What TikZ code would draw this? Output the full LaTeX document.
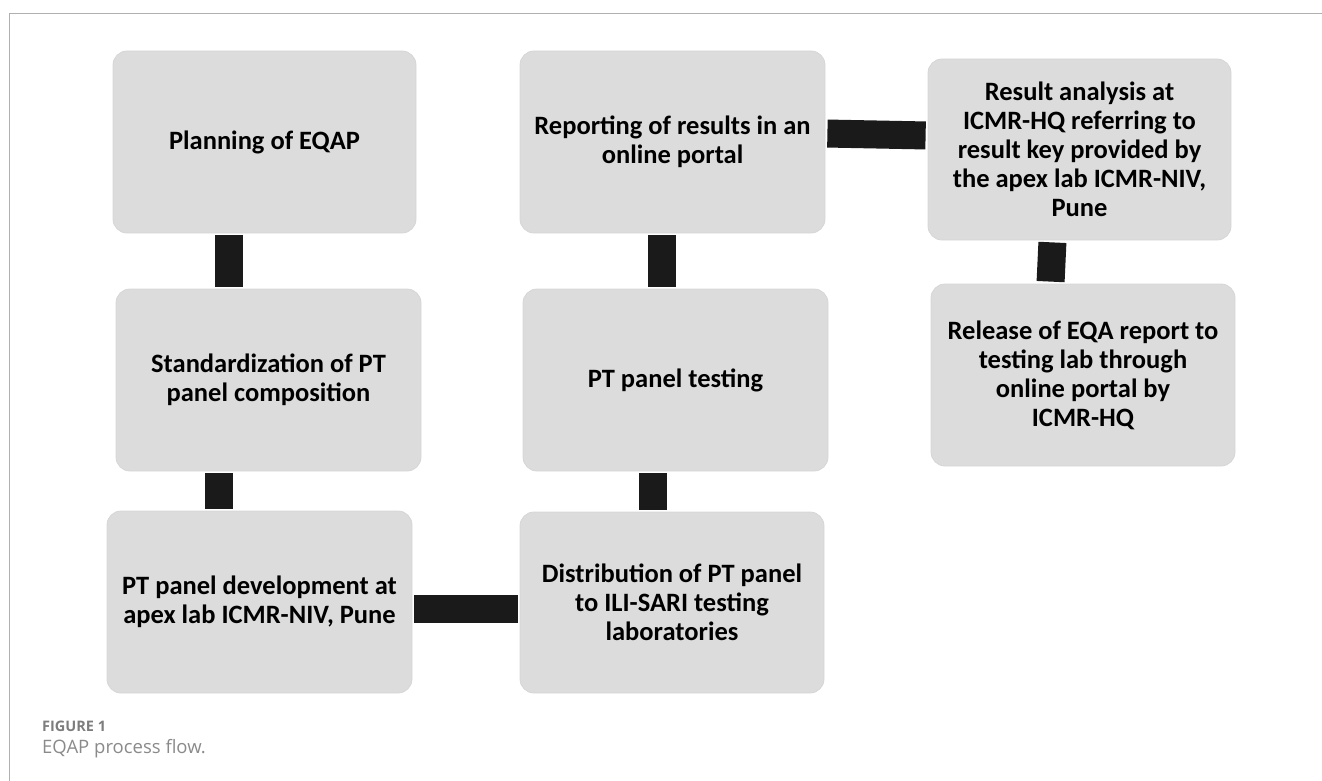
\documentclass[tikz,border=0pt]{standalone}
\usepackage{fontspec}
\setmainfont{Carlito}
\newfontfamily\capfont{Open Sans}
\definecolor{boxgray}{RGB}{220,220,220}
\definecolor{boxedge}{RGB}{214,214,214}
\definecolor{barblack}{RGB}{26,26,26}
\definecolor{framegray}{RGB}{176,176,176}
\definecolor{capgray}{RGB}{125,125,125}
\begin{document}
\begin{tikzpicture}[x=1pt,y=-1pt,
  stepbox/.style={draw=boxedge, line width=0.8pt, fill=boxgray, rounded corners=14pt,
    minimum width=304pt, minimum height=182pt, inner sep=0pt, align=center,
    font=\fontsize{26.5}{29}\selectfont\bfseries, text=black},
  conn/.style={draw=barblack, line width=28pt, line cap=butt, shorten <=2pt, shorten >=2pt},
  frameline/.style={draw=framegray, line width=1.5pt}]
\useasboundingbox (0,0) rectangle (1322,781);
% frame
\coordinate (f1) at (9.5,781);
\coordinate (f2) at (9.5,13.7);
\coordinate (f3) at (1322,13.7);
\draw[frameline] (f1) -- (f2) -- (f3);
% boxes
\node[stepbox, minimum width=303pt] (A) at (264.5,142) {Planning of EQAP};
\node[stepbox, minimum width=305pt] (B) at (268.5,380) {Standardization of PT\\panel composition};
\node[stepbox, minimum width=305pt] (C) at (259.5,602) {PT panel development at\\apex lab ICMR-NIV, Pune};
\node[stepbox, minimum height=181pt] (D) at (672,602.5) {Distribution of PT panel\\to ILI-SARI testing\\laboratories};
\node[stepbox, minimum width=305pt] (E) at (675.5,380) {PT panel testing};
\node[stepbox, minimum width=305pt] (F) at (672.5,142) {Reporting of results in an\\online portal};
\node[stepbox, minimum width=303pt, minimum height=181pt] (G) at (1079.5,149.5) {Result analysis at\\ICMR-HQ referring to\\result key provided by\\the apex lab ICMR-NIV,\\Pune};
\node[stepbox] (H) at (1083,375) {Release of EQA report to\\testing lab through\\online portal by\\ICMR-HQ};
% connectors
\draw[conn] ([xshift=-35.5pt]A.south) -- ([xshift=-39.5pt]B.north);
\draw[conn] ([xshift=-49.5pt]B.south) -- ([xshift=-40.5pt]C.north);
\draw[conn] ([yshift=-6.5pt]C.east) -- ([yshift=-6pt]D.west);
\draw[conn] ([xshift=-19pt]D.north) -- ([xshift=-22.5pt]E.south);
\draw[conn] ([xshift=-13.5pt]E.north) -- ([xshift=-10.5pt]F.south);
\draw[conn] ([yshift=8.5pt]F.east) -- ([yshift=14pt]G.west);
\draw[conn] ([xshift=-27pt]G.south) -- ([xshift=-32.5pt]H.north);
% caption
\node[anchor=base west, inner sep=0pt, text=capgray, font=\capfont\bfseries\fontsize{14.5}{17}\selectfont] (cap1) at (42,731) {FIGURE 1};
\node[anchor=base west, inner sep=0pt, text=capgray!90, font=\capfont\fontsize{18.5}{22}\selectfont] (cap2) at (42,753) {EQAP process flow.};
\end{tikzpicture}
\end{document}
